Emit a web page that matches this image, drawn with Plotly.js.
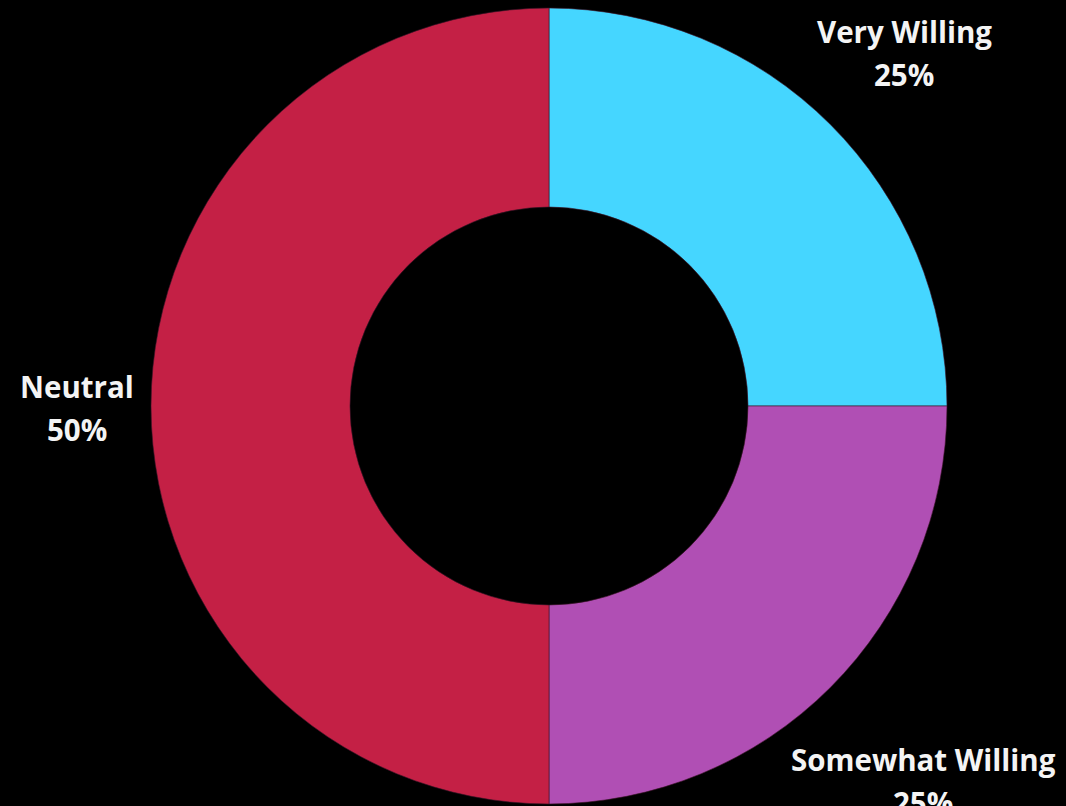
<!DOCTYPE html>
<html>
<head>
<meta charset="utf-8">
<script src="https://cdn.plot.ly/plotly-3.0.1.min.js"></script>
<style>
  html, body { margin: 0; padding: 0; background: #000; }
  #chart { width: 1066px; height: 806px; }
</style>
</head>
<body>
<div id="chart"></div>
<script>
const categories = ["Very Willing", "Somewhat Willing", "Neutral"];
const values = [25, 25, 50];
const colors = ["#45D6FF", "#B04FB4", "#C42045"];

// label anchor positions in pixels (centre of each two-line label)
const labelPos = [[904, 53], [923, 781], [77, 408]];

const W = 1066, H = 806;
const total = values.reduce((a, b) => a + b, 0);
const annotations = [];
const lineGap = 43;
const font = { family: "Open Sans, Lato, sans-serif", size: 29.5, color: "#F4F4F4", weight: 700 };
categories.forEach((c, i) => {
  const pct = Math.round(values[i] / total * 100) + "%";
  const [px, py] = labelPos[i];
  [[c, py - lineGap / 2], [pct, py + lineGap / 2]].forEach(([t, y]) => {
    annotations.push({
      text: "<b>" + t + "</b>", xref: "paper", yref: "paper",
      x: px / W, y: 1 - y / H, xanchor: "center", yanchor: "middle",
      showarrow: false, font: font
    });
  });
});

const cx = 549, cy = 406, r = 398;
const trace = {
  type: "pie",
  labels: categories,
  values: values,
  hole: 0.5,
  sort: false,
  direction: "clockwise",
  rotation: 0,
  textinfo: "none",
  hoverinfo: "label+percent",
  marker: { colors: colors, line: { color: "rgba(60,20,40,0.6)", width: 1 } },
  domain: { x: [(cx - r) / W, (cx + r) / W], y: [(H - cy - r) / H, (H - cy + r) / H] },
  showlegend: false
};

Plotly.newPlot("chart", [trace], {
  width: W, height: H,
  paper_bgcolor: "#000", plot_bgcolor: "#000",
  margin: { l: 0, r: 0, t: 0, b: 0 },
  showlegend: false,
  annotations: annotations
}, { displayModeBar: false, staticPlot: true });
</script>
</body>
</html>
